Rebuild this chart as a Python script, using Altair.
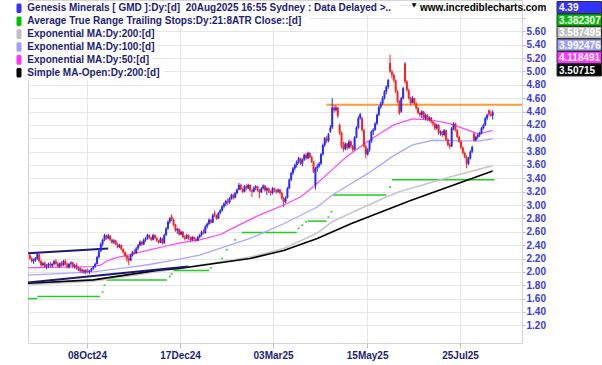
import altair as alt
import pandas as pd

# ---------------- data ----------------
open_ = [
    2.25, 2.20, 2.16, 2.18, 2.20, 2.26, 2.16, 2.10, 2.13, 2.08,
    2.10, 2.12, 2.09, 2.12, 2.16, 2.12, 2.08, 2.13, 2.10, 2.16,
    2.11, 2.07, 2.12, 2.14, 2.08, 2.10, 2.05, 2.06, 2.01, 2.03,
    2.00, 2.02, 2.00, 2.02, 2.05, 2.08, 2.12, 2.22, 2.31, 2.42,
    2.48, 2.55, 2.50, 2.54, 2.48, 2.44, 2.47, 2.41, 2.37, 2.40,
    2.34, 2.29, 2.24, 2.20, 2.17, 2.25, 2.30, 2.28, 2.35, 2.40,
    2.45, 2.41, 2.48, 2.50, 2.55, 2.51, 2.48, 2.55, 2.51, 2.47,
    2.44, 2.50, 2.43, 2.55, 2.65, 2.75, 2.82, 2.78, 2.70, 2.62,
    2.64, 2.56, 2.60, 2.52, 2.50, 2.55, 2.50, 2.48, 2.52, 2.49,
    2.47, 2.52, 2.55, 2.60, 2.58, 2.68, 2.72, 2.78, 2.74, 2.88,
    2.84, 2.80, 2.88, 2.92, 2.98, 3.02, 3.06, 3.04, 3.10, 3.15,
    3.11, 3.18, 3.23, 3.30, 3.24, 3.20, 3.28, 3.25, 3.30, 3.22,
    3.20, 3.26, 3.28, 3.22, 3.19, 3.25, 3.29, 3.22, 3.25, 3.20,
    3.18, 3.25, 3.22, 3.20, 3.23, 3.18, 3.10, 3.05, 3.11, 3.25,
    3.38, 3.48, 3.55, 3.60, 3.65, 3.70, 3.62, 3.68, 3.75, 3.70,
    3.78, 3.72, 3.65, 3.30, 3.55, 3.58, 3.62, 3.76, 3.90, 4.00,
    3.96, 4.10, 4.16, 4.46, 4.42, 4.46, 4.20, 4.08, 3.88, 3.84,
    3.92, 3.86, 3.95, 3.88, 3.83, 4.01, 4.16, 4.30, 4.30, 4.12,
    3.88, 3.76, 3.83, 3.95, 4.10, 4.13, 4.22, 4.35, 4.47, 4.52,
    4.60, 4.70, 4.77, 5.13, 5.00, 4.95, 4.87, 4.70, 4.55, 4.40,
    4.60, 5.12, 4.85, 4.72, 4.60, 4.53, 4.60, 4.52, 4.45, 4.38,
    4.35, 4.40, 4.30, 4.35, 4.28, 4.31, 4.25, 4.22, 4.15, 4.20,
    4.08, 4.10, 4.05, 4.12, 3.98, 3.90, 3.88, 4.15, 4.22, 4.12,
    4.02, 3.95, 3.86, 3.78, 3.72, 3.62, 3.70, 3.80, 4.07, 3.97,
    4.02, 4.05, 4.08, 4.15, 4.20, 4.30, 4.42, 4.36, 4.34,
]
high = [
    2.27, 2.22, 2.20, 2.22, 2.30, 2.27, 2.18, 2.15, 2.16, 2.12,
    2.14, 2.15, 2.13, 2.18, 2.19, 2.15, 2.14, 2.16, 2.18, 2.19,
    2.14, 2.13, 2.16, 2.15, 2.12, 2.13, 2.08, 2.07, 2.05, 2.04,
    2.04, 2.05, 2.03, 2.06, 2.09, 2.14, 2.24, 2.33, 2.44, 2.50,
    2.57, 2.56, 2.57, 2.55, 2.50, 2.49, 2.48, 2.43, 2.42, 2.41,
    2.35, 2.31, 2.26, 2.24, 2.27, 2.31, 2.34, 2.37, 2.42, 2.47,
    2.46, 2.50, 2.52, 2.57, 2.56, 2.53, 2.57, 2.56, 2.52, 2.48,
    2.52, 2.51, 2.57, 2.67, 2.77, 2.82, 2.86, 2.80, 2.72, 2.66,
    2.65, 2.62, 2.61, 2.55, 2.57, 2.56, 2.53, 2.54, 2.53, 2.51,
    2.54, 2.57, 2.62, 2.64, 2.70, 2.74, 2.80, 2.79, 2.87, 2.92,
    2.86, 2.90, 2.94, 3.00, 3.04, 3.08, 3.10, 3.12, 3.17, 3.17,
    3.20, 3.25, 3.33, 3.32, 3.26, 3.30, 3.31, 3.32, 3.31, 3.24,
    3.28, 3.30, 3.29, 3.24, 3.27, 3.31, 3.30, 3.27, 3.26, 3.22,
    3.27, 3.26, 3.24, 3.25, 3.24, 3.20, 3.12, 3.13, 3.27, 3.40,
    3.50, 3.57, 3.62, 3.67, 3.72, 3.71, 3.70, 3.77, 3.78, 3.80,
    3.79, 3.74, 3.66, 3.57, 3.62, 3.65, 3.78, 3.92, 4.02, 4.03,
    4.08, 4.20, 4.60, 4.50, 4.49, 4.47, 4.22, 4.10, 3.95, 3.94,
    3.93, 3.98, 3.97, 3.90, 4.03, 4.18, 4.33, 4.38, 4.32, 4.14,
    3.90, 3.85, 3.97, 4.12, 4.15, 4.24, 4.37, 4.49, 4.55, 4.63,
    4.72, 4.79, 4.89, 5.25, 5.02, 4.97, 4.88, 4.72, 4.57, 4.62,
    4.77, 5.14, 4.87, 4.74, 4.62, 4.63, 4.61, 4.54, 4.47, 4.40,
    4.42, 4.41, 4.37, 4.36, 4.33, 4.32, 4.26, 4.23, 4.22, 4.21,
    4.12, 4.11, 4.14, 4.13, 4.00, 3.93, 4.17, 4.24, 4.23, 4.14,
    4.04, 3.97, 3.88, 3.80, 3.74, 3.72, 3.82, 3.89, 4.09, 4.04,
    4.07, 4.10, 4.17, 4.22, 4.32, 4.37, 4.43, 4.41, 4.42,
]
low = [
    2.18, 2.14, 2.12, 2.15, 2.18, 2.14, 2.08, 2.08, 2.06, 2.04,
    2.06, 2.07, 2.07, 2.10, 2.10, 2.06, 2.06, 2.08, 2.09, 2.10,
    2.05, 2.05, 2.09, 2.06, 2.05, 2.03, 2.01, 1.99, 1.98, 1.97,
    1.97, 1.98, 1.97, 2.00, 2.03, 2.06, 2.11, 2.20, 2.30, 2.38,
    2.46, 2.48, 2.49, 2.46, 2.42, 2.42, 2.40, 2.35, 2.36, 2.32,
    2.27, 2.22, 2.15, 2.10, 2.16, 2.23, 2.26, 2.27, 2.33, 2.38,
    2.39, 2.40, 2.45, 2.48, 2.49, 2.46, 2.47, 2.49, 2.45, 2.42,
    2.43, 2.41, 2.42, 2.54, 2.63, 2.72, 2.76, 2.68, 2.60, 2.57,
    2.54, 2.55, 2.50, 2.47, 2.49, 2.48, 2.45, 2.46, 2.46, 2.45,
    2.46, 2.50, 2.53, 2.56, 2.57, 2.65, 2.70, 2.72, 2.73, 2.82,
    2.78, 2.79, 2.86, 2.90, 2.95, 2.98, 3.00, 3.02, 3.08, 3.08,
    3.10, 3.16, 3.22, 3.22, 3.18, 3.19, 3.22, 3.24, 3.20, 3.12,
    3.19, 3.22, 3.20, 3.10, 3.18, 3.23, 3.20, 3.15, 3.18, 3.14,
    3.16, 3.19, 3.17, 3.18, 3.16, 3.08, 2.97, 3.03, 3.10, 3.24,
    3.36, 3.45, 3.52, 3.56, 3.62, 3.60, 3.58, 3.66, 3.68, 3.69,
    3.70, 3.63, 3.48, 3.23, 3.50, 3.56, 3.60, 3.74, 3.87, 3.93,
    3.94, 4.08, 4.14, 4.38, 4.40, 4.30, 4.05, 3.85, 3.80, 3.82,
    3.82, 3.84, 3.85, 3.80, 3.82, 4.00, 4.14, 4.28, 4.10, 3.86,
    3.70, 3.74, 3.80, 3.93, 4.05, 4.11, 4.20, 4.33, 4.44, 4.50,
    4.58, 4.66, 4.74, 4.98, 4.90, 4.84, 4.68, 4.53, 4.35, 4.38,
    4.58, 4.82, 4.70, 4.58, 4.50, 4.52, 4.50, 4.43, 4.36, 4.32,
    4.30, 4.28, 4.27, 4.26, 4.25, 4.22, 4.18, 4.12, 4.13, 4.05,
    4.04, 4.02, 4.03, 3.96, 3.88, 3.84, 3.87, 4.12, 4.10, 4.00,
    3.93, 3.84, 3.76, 3.70, 3.55, 3.60, 3.68, 3.78, 3.95, 3.95,
    3.99, 4.02, 4.06, 4.13, 4.18, 4.27, 4.33, 4.32, 4.28,
]
close = [
    2.20, 2.16, 2.18, 2.21, 2.28, 2.16, 2.10, 2.13, 2.08, 2.10,
    2.12, 2.09, 2.12, 2.16, 2.12, 2.08, 2.13, 2.10, 2.16, 2.11,
    2.07, 2.12, 2.14, 2.08, 2.10, 2.05, 2.06, 2.01, 2.03, 1.99,
    2.02, 2.00, 2.02, 2.05, 2.08, 2.12, 2.22, 2.31, 2.42, 2.48,
    2.55, 2.50, 2.54, 2.48, 2.44, 2.47, 2.41, 2.37, 2.40, 2.34,
    2.29, 2.24, 2.20, 2.17, 2.25, 2.30, 2.28, 2.35, 2.40, 2.45,
    2.41, 2.48, 2.50, 2.55, 2.51, 2.48, 2.55, 2.51, 2.47, 2.44,
    2.50, 2.43, 2.55, 2.65, 2.75, 2.80, 2.78, 2.70, 2.62, 2.64,
    2.56, 2.60, 2.52, 2.50, 2.55, 2.50, 2.48, 2.52, 2.49, 2.47,
    2.52, 2.55, 2.60, 2.58, 2.68, 2.72, 2.78, 2.74, 2.85, 2.84,
    2.80, 2.88, 2.92, 2.98, 3.02, 3.06, 3.04, 3.10, 3.15, 3.11,
    3.18, 3.23, 3.30, 3.24, 3.20, 3.28, 3.25, 3.30, 3.22, 3.20,
    3.26, 3.28, 3.22, 3.19, 3.25, 3.29, 3.22, 3.25, 3.20, 3.18,
    3.25, 3.22, 3.20, 3.23, 3.18, 3.10, 3.05, 3.11, 3.25, 3.38,
    3.48, 3.55, 3.60, 3.65, 3.70, 3.62, 3.68, 3.75, 3.70, 3.78,
    3.72, 3.65, 3.50, 3.55, 3.58, 3.62, 3.76, 3.90, 4.00, 3.96,
    4.06, 4.16, 4.46, 4.42, 4.46, 4.34, 4.08, 3.88, 3.84, 3.92,
    3.86, 3.95, 3.88, 3.83, 4.01, 4.16, 4.30, 4.36, 4.12, 3.88,
    3.76, 3.83, 3.95, 4.10, 4.13, 4.22, 4.35, 4.47, 4.52, 4.60,
    4.70, 4.77, 4.87, 5.00, 4.95, 4.87, 4.70, 4.55, 4.38, 4.60,
    4.75, 4.85, 4.72, 4.60, 4.53, 4.60, 4.52, 4.45, 4.38, 4.35,
    4.40, 4.30, 4.35, 4.28, 4.31, 4.25, 4.22, 4.15, 4.20, 4.08,
    4.10, 4.05, 4.12, 3.98, 3.90, 3.88, 4.15, 4.22, 4.12, 4.02,
    3.95, 3.86, 3.78, 3.72, 3.62, 3.70, 3.80, 3.87, 3.97, 4.02,
    4.05, 4.08, 4.15, 4.20, 4.30, 4.35, 4.36, 4.34, 4.39,
]
bar_index = list(range(1, len(close) + 1))

# moving averages (bar index, value)
ema50_i = [0, 35, 39, 42, 47, 55, 65, 73, 81, 92, 103, 113, 124, 137, 146, 154, 163, 171, 182, 189, 196, 206, 217, 226, 235, 241, 244, 249]
ema50_v = [2.06, 2.08, 2.10, 2.16, 2.21, 2.26, 2.33, 2.38, 2.43, 2.48, 2.56, 2.70, 2.85, 3.00, 3.12, 3.30, 3.53, 3.73, 3.95, 4.08, 4.20, 4.29, 4.27, 4.22, 4.13, 4.07, 4.08, 4.12]
ema100_i = [0, 35, 55, 65, 81, 92, 119, 137, 155, 163, 173, 182, 196, 206, 217, 231, 242, 249]
ema100_v = [1.95, 2.00, 2.07, 2.11, 2.19, 2.25, 2.50, 2.72, 2.97, 3.15, 3.32, 3.47, 3.74, 3.90, 3.97, 3.96, 3.96, 3.99]
ema200_i = [0, 35, 81, 119, 137, 155, 163, 173, 192, 199, 226, 249]
ema200_v = [1.81, 1.86, 2.05, 2.22, 2.35, 2.58, 2.75, 2.88, 3.12, 3.20, 3.42, 3.59]
sma200_i = [0, 35, 71, 81, 119, 137, 155, 173, 205, 249]
sma200_v = [1.83, 1.88, 2.03, 2.05, 2.20, 2.32, 2.50, 2.72, 3.07, 3.51]

# ATR trailing stop steps (start bar, end bar, level)
atr_start = [0, 5, 39.5, 40.5, 42, 75.5, 76.5, 78, 97.5, 103.5, 106, 110.5, 114.5, 144.5, 146.5, 148.5, 150, 160.5, 162, 163.5, 193.5, 195]
atr_end = [5, 38.5, 40.5, 41.5, 74.5, 76.5, 77.5, 97, 98.5, 104.5, 107, 111.5, 144, 145.5, 147.5, 149.5, 160, 161.5, 163, 192, 194.5, 250]
atr_val = [1.60, 1.63, 1.70, 1.80, 1.88, 1.93, 1.97, 2.02, 2.06, 2.20, 2.33, 2.48, 2.59, 2.65, 2.70, 2.75, 2.76, 2.82, 2.90, 3.15, 3.27, 3.38]

# drawn trend lines
trend_x0 = [0, 0]
trend_x1 = [43, 86]
trend_y0 = [2.28, 1.84]
trend_y1 = [2.35, 2.08]

# horizontal resistance line
resist_start = [160]
resist_end = [264.7]
resist_val = [4.50]

tick_pos = [31.6, 81.5, 131.3, 181.7, 231.5]
tick_labels = ["08Oct24", "17Dec24", "03Mar25", "15May25", "25Jul25"]
y_grid = [round(1.2 + 0.2 * k, 1) for k in range(25)]

legend_labels = [
    "Genesis Minerals [ GMD ]:Dy:[d]\u00a0 20Aug2025 16:55 Sydney : Data Delayed >..",
    "Average True Range Trailing Stops:Dy:21:8ATR Close::[d]",
    "Exponential MA:Dy:200:[d]",
    "Exponential MA:Dy:100:[d]",
    "Exponential MA:Dy:50:[d]",
    "Simple MA-Open:Dy:200:[d]",
]
legend_colors = ["#3333ff", "#00c000", "#c0c0c0", "#a0a0ff", "#ff33ff", "#000000"]
legend_widths = [372, 282, 129, 129, 124, 136]
last_values = ["4.39", "3.382307", "3.587495", "3.992476", "4.118491", "3.50715"]

# ---------------- chart ----------------
FONT = "Liberation Sans"
XMAX = 264.7
xs = alt.Scale(domain=[0, XMAX], nice=False, zero=False)
ys = alt.Scale(domain=[0.935, 6.07], nice=False, zero=False)

mids = [(a + b) / 2 for a, b in zip(tick_pos[:-1], tick_pos[1:])]
expr = f"'{tick_labels[-1]}'"
for m, lab in reversed(list(zip(mids, tick_labels[:-1]))):
    expr = f"datum.value < {m:.2f} ? '{lab}' : ({expr})"

x_axis = alt.Axis(values=tick_pos, labelExpr=expr, title=None, grid=True,
                  gridColor="#e6e6e6", domain=False, tickColor="#c0c0c0",
                  tickSize=5, labelColor="#1c1c7c", labelFontWeight="bold",
                  labelFontSize=10, labelPadding=2, labelFont=FONT)
y_axis = alt.Axis(orient="right", values=y_grid,
                  labelExpr="datum.value > 5.65 ? '' : format(datum.value, '.2f')",
                  title=None, grid=True, gridColor="#e6e6e6", domain=False,
                  tickColor="#c0c0c0", tickSize=3, labelColor="#3a3ae0",
                  labelFontWeight="bold", labelFontSize=10, labelPadding=1,
                  labelFont=FONT)


def X(f):
    return alt.X(f, type="quantitative", scale=xs, axis=x_axis)


def X2(f):
    return alt.X2(f)


def Y(f):
    return alt.Y(f, type="quantitative", scale=ys, axis=y_axis)


candles = pd.DataFrame({"i": bar_index, "o": open_, "h": high, "l": low, "c": close})
candles["dir"] = ["up" if c >= o else "down" for o, c in zip(open_, close)]
cscale = alt.Scale(domain=["up", "down"], range=["#2a2aff", "#ff2020"])

atr = pd.DataFrame({"s": atr_start, "e": atr_end, "v": atr_val})
atr_layer = alt.Chart(atr).mark_rule(color="#22cc22", strokeWidth=1.5).encode(
    x=X("s"), x2=X2("e"), y=Y("v"))


def ma_layer(ii, vv, color, width):
    df = pd.DataFrame({"i": ii, "v": vv})
    return alt.Chart(df).mark_line(color=color, strokeWidth=width).encode(x=X("i"), y=Y("v"))


ema200 = ma_layer(ema200_i, ema200_v, "#c8c8c8", 1.7)
sma200 = ma_layer(sma200_i, sma200_v, "#000000", 1.6)
ema100 = ma_layer(ema100_i, ema100_v, "#a8a8ff", 1.3)
ema50 = ma_layer(ema50_i, ema50_v, "#ff44ff", 1.2)

trend = pd.DataFrame({"x0": trend_x0, "x1": trend_x1, "y0": trend_y0, "y1": trend_y1})
trend_layer = alt.Chart(trend).mark_rule(color="#1a1a6e", strokeWidth=2).encode(
    x=X("x0"), x2=X2("x1"), y=Y("y0"), y2=alt.Y2("y1"))

resist = pd.DataFrame({"s": resist_start, "e": resist_end, "v": resist_val})
resist_layer = alt.Chart(resist).mark_rule(color="#ff9933", strokeWidth=2).encode(
    x=X("s"), x2=X2("e"), y=Y("v"))

wicks = alt.Chart(candles).mark_rule(strokeWidth=1).encode(
    x=X("i"), y=Y("l"), y2=alt.Y2("h"),
    color=alt.Color("dir:N", scale=cscale, legend=None))
bodies = alt.Chart(candles).mark_rule(strokeWidth=2).encode(
    x=X("i"), y=Y("o"), y2=alt.Y2("c"),
    color=alt.Color("dir:N", scale=cscale, legend=None))

layers = [atr_layer, ema200, sma200, ema100, ema50, trend_layer, resist_layer, wicks, bodies]

# legend block (top-left), pixel positions relative to plot origin
for k, (lab, col, w) in enumerate(zip(legend_labels, legend_colors, legend_widths)):
    cy = 8.3 + 12.9 * k
    one = pd.DataFrame({"t": [lab]})
    layers.append(alt.Chart(one).mark_rect(color="white").encode(
        x=alt.value(-13), x2=alt.value(w), y=alt.value(cy - 6.5), y2=alt.value(cy + 6.5)))
    layers.append(alt.Chart(one).mark_rect(color=col, cornerRadius=1.5).encode(
        x=alt.value(-11.5), x2=alt.value(-6.5), y=alt.value(cy - 4.8), y2=alt.value(cy + 4.8)))
    layers.append(alt.Chart(one).mark_text(
        align="left", baseline="middle", font=FONT, fontSize=10, fontWeight="bold",
        color="#1c1c7c").encode(x=alt.value(-0.7), y=alt.value(cy), text="t:N"))

# site name and arrow
site = pd.DataFrame({"t": ["www.incrediblecharts.com"]})
layers.append(alt.Chart(site).mark_text(
    align="left", baseline="middle", font=FONT, fontSize=10, fontWeight="bold",
    color="#000000").encode(x=alt.value(392), y=alt.value(8), text="t:N"))
arrow = pd.DataFrame({"t": ["\u25bc"]})
layers.append(alt.Chart(arrow).mark_text(
    align="center", baseline="middle", font="DejaVu Sans", fontSize=6,
    color="#000000").encode(x=alt.value(386), y=alt.value(5), text="t:N"))

# last-value boxes (top-right)
for k, (val, col) in enumerate(zip(last_values, legend_colors)):
    cy = 7.5 + 12.5 * k
    one = pd.DataFrame({"t": [val]})
    layers.append(alt.Chart(one).mark_rect(color=col, stroke="#303030", strokeWidth=1).encode(
        x=alt.value(529), x2=alt.value(573.5), y=alt.value(cy - 6), y2=alt.value(cy + 6)))
    layers.append(alt.Chart(one).mark_text(
        align="left", baseline="middle", font=FONT, fontSize=10, fontWeight="bold",
        color="#ffffff").encode(x=alt.value(531), y=alt.value(cy + 0.5), text="t:N"))

chart = alt.layer(*layers).properties(
    width=494, height=343,
    padding={"left": 28, "top": 0, "right": 80, "bottom": 22},
    autosize=alt.AutoSizeParams(type="none"),
    background="white",
).configure_view(stroke="#d4d4d4", strokeWidth=1)

chart.save("out.html", embed_options={"renderer": "svg", "actions": False})
